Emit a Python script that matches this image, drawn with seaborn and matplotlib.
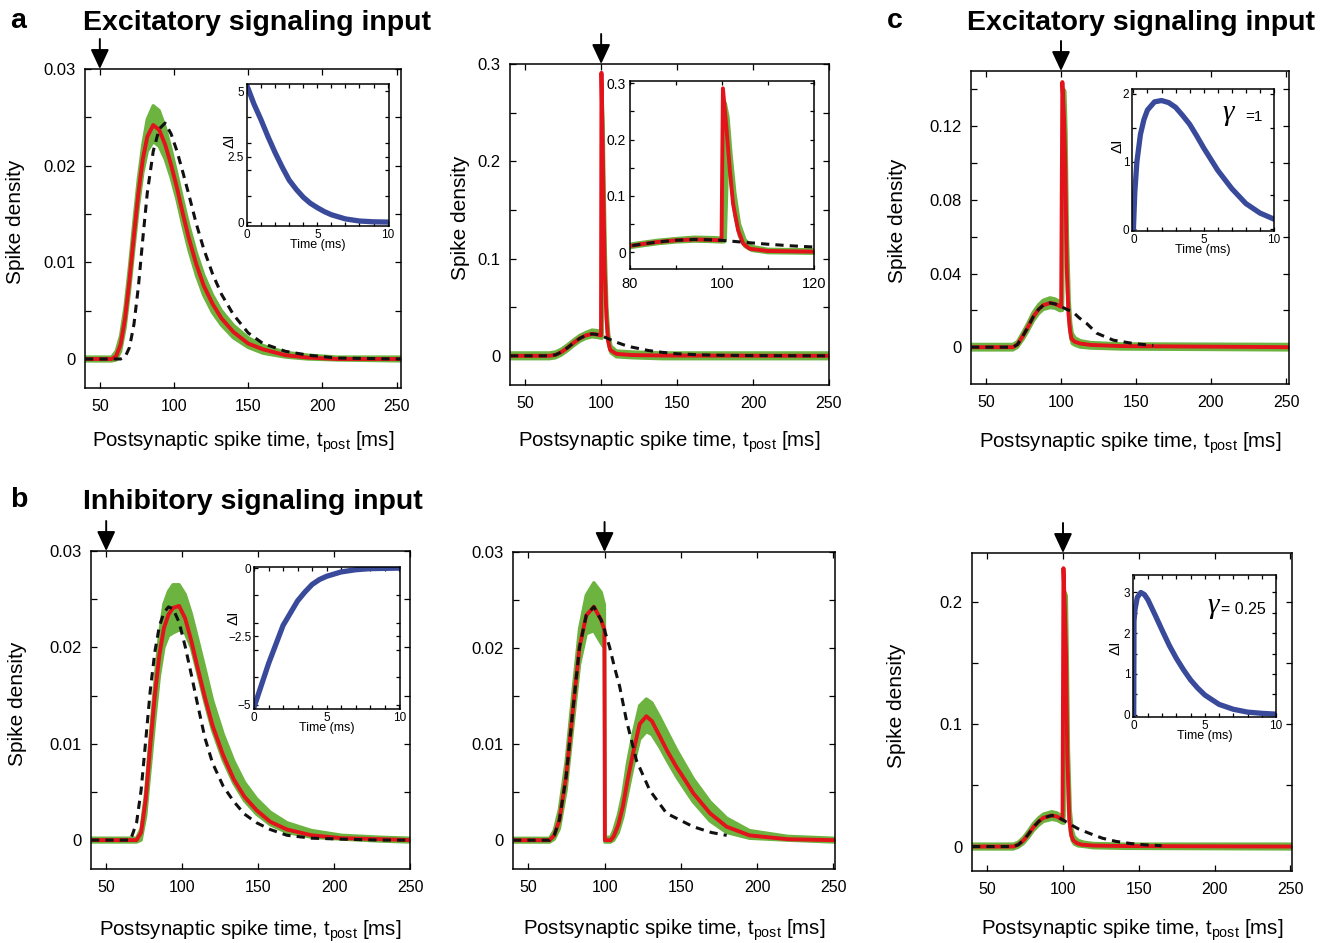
import numpy as np
import matplotlib
matplotlib.use("Agg")
import matplotlib.pyplot as plt
import seaborn as sns

sns.set_style("ticks")
plt.rcParams["font.family"] = ["Liberation Sans", "DejaVu Sans"]
plt.rcParams["mathtext.fontset"] = "custom"
plt.rcParams["mathtext.rm"] = "Liberation Sans"
plt.rcParams["mathtext.it"] = "Liberation Sans:italic"
for k in ["text.color", "axes.labelcolor", "xtick.color", "ytick.color", "axes.edgecolor"]:
    plt.rcParams[k] = "black"

GREEN = "#6cb33f"
RED = "#e3131b"
BLUE = "#3a4a9b"

# ---------------- data ----------------
# a, left: excitatory input at t=50
t_a1 = [40, 58, 61, 64, 67, 70, 73, 76, 79, 82, 86, 90, 94, 98, 102, 106, 110, 115, 120, 126, 132, 140, 150, 160, 175, 190, 210, 253]
red_a1 = [0, 0, 0.0003, 0.0015, 0.0042, 0.0082, 0.0128, 0.0172, 0.0207, 0.0230, 0.0242, 0.0237, 0.0222, 0.0201, 0.0177, 0.0150, 0.0125, 0.0098, 0.0076, 0.0057, 0.0042, 0.0028, 0.0016, 0.0010, 0.0004, 0.00015, 0, 0]
black_a1 = [0, 0, 0, 0, 0.0002, 0.0012, 0.0036, 0.0075, 0.0125, 0.0172, 0.0215, 0.0238, 0.0244, 0.0233, 0.0215, 0.0193, 0.0170, 0.0140, 0.0114, 0.0088, 0.0067, 0.0046, 0.0027, 0.0016, 0.0008, 0.0004, 0.0001, 0]
glo_a1 = [-0.0002, -0.0002, -0.0001, 0.0008, 0.0032, 0.0070, 0.0115, 0.0158, 0.0193, 0.0215, 0.0225, 0.0220, 0.0207, 0.0188, 0.0165, 0.0138, 0.0113, 0.0087, 0.0066, 0.0048, 0.0035, 0.0022, 0.0012, 0.0006, 0.0002, 0, -0.0001, -0.0002]
ghi_a1 = [0.0002, 0.0002, 0.0008, 0.0024, 0.0054, 0.0096, 0.0143, 0.0187, 0.0222, 0.0248, 0.0262, 0.0257, 0.0240, 0.0217, 0.0191, 0.0164, 0.0138, 0.0110, 0.0087, 0.0066, 0.0050, 0.0035, 0.0022, 0.0014, 0.0007, 0.0004, 0.0002, 0.0002]

# a, right: excitatory input at t=100
t_a2 = [40, 66, 70, 74, 78, 82, 86, 90, 94, 97, 99.9, 100.2, 101, 101.7, 102.4, 103.5, 104.6, 106, 110, 120, 140, 250]
red_a2 = [0, 0, 0.001, 0.004, 0.0085, 0.0135, 0.018, 0.021, 0.0225, 0.022, 0.021, 0.291, 0.217, 0.146, 0.086, 0.039, 0.015, 0.006, 0.002, 0.0008, 0.0003, 0]
tb_a2 = [40, 66, 70, 74, 78, 82, 86, 90, 94, 97, 99.9, 104, 110, 115, 120, 131, 140, 150, 165, 180, 200, 250]
black_a2 = [0, 0, 0.001, 0.004, 0.0085, 0.0135, 0.018, 0.021, 0.0225, 0.022, 0.021, 0.0180, 0.0140, 0.0112, 0.0090, 0.0055, 0.0036, 0.0021, 0.0010, 0.0005, 0.0002, 0]
tg_a2 = [40, 66, 70, 74, 78, 82, 86, 90, 94, 97, 100.4, 100.7, 101.3, 102, 102.8, 103.8, 105, 106.5, 110, 120, 140, 250]
glo_a2 = [-0.003, -0.003, -0.002, 0.001, 0.0055, 0.0105, 0.015, 0.018, 0.0195, 0.019, 0.018, 0.02, 0.19, 0.12, 0.065, 0.028, 0.01, 0.003, -0.001, -0.002, -0.003, -0.003]
ghi_a2 = [0.003, 0.003, 0.004, 0.007, 0.0115, 0.0165, 0.021, 0.024, 0.0265, 0.026, 0.025, 0.265, 0.24, 0.17, 0.105, 0.05, 0.022, 0.01, 0.005, 0.004, 0.003, 0.003]

# b, left: inhibitory input at t=50
t_b1 = [40, 66, 70, 73, 76, 79, 82, 85, 88, 91, 94, 98, 102, 106, 110, 115, 120, 127, 134, 141, 149, 158, 169, 185, 205, 230, 250]
red_b1 = [0, 0, 0, 0.0008, 0.0042, 0.0098, 0.0150, 0.0192, 0.0220, 0.0234, 0.0241, 0.0243, 0.0230, 0.0207, 0.0180, 0.0148, 0.0119, 0.0088, 0.0063, 0.0045, 0.0031, 0.0019, 0.0011, 0.0005, 0.0002, 0.0001, 0]
black_b1 = [0, 0, 0.0018, 0.0052, 0.0103, 0.0155, 0.0195, 0.0222, 0.0236, 0.0242, 0.0240, 0.0226, 0.0201, 0.0172, 0.0142, 0.0106, 0.0080, 0.0056, 0.0040, 0.0027, 0.0018, 0.0011, 0.0005, 0.0002, 0.0001, 0, 0]
glo_b1 = [-0.0002, -0.0002, -0.0002, 0, 0.0025, 0.0075, 0.0125, 0.0170, 0.0200, 0.0212, 0.0215, 0.0218, 0.0215, 0.0200, 0.0175, 0.0143, 0.0114, 0.0083, 0.0059, 0.0041, 0.0027, 0.0016, 0.0008, 0.0003, 0.0001, -0.0001, -0.0002]
ghi_b1 = [0.0002, 0.0002, 0.0002, 0.0012, 0.0050, 0.0108, 0.0163, 0.0212, 0.0245, 0.0258, 0.0265, 0.0265, 0.0255, 0.0235, 0.0210, 0.0178, 0.0145, 0.0110, 0.0082, 0.0060, 0.0043, 0.0029, 0.0018, 0.0010, 0.0005, 0.0003, 0.0002]

# b, right: inhibitory input at t=100
t_b2 = [40, 64, 67, 70.4, 74.8, 79.2, 83.6, 88, 93, 97.8, 99.9, 100.2, 104, 106, 109, 112, 115, 118.6, 123, 127.4, 131, 136.2, 141, 147.2, 153, 158.1, 169.1, 180, 195, 220, 251]
red_b2 = [0, 0, 0.0005, 0.0021, 0.0066, 0.0135, 0.0201, 0.0234, 0.0243, 0.0229, 0.0219, 0, 0, 0.0004, 0.0016, 0.0035, 0.0062, 0.0090, 0.0121, 0.0129, 0.0124, 0.0108, 0.0093, 0.0076, 0.0062, 0.0049, 0.0028, 0.0014, 0.0005, 0.0001, 0]
tb_b2 = [40, 64, 67, 70.4, 74.8, 79.2, 83.6, 88, 93, 97.8, 99.9, 103.3, 106.5, 109.9, 114.3, 120.9, 129.6, 140.6, 158.1, 170, 180]
black_b2 = [0, 0, 0.0005, 0.0021, 0.0066, 0.0135, 0.0201, 0.0234, 0.0243, 0.0229, 0.0219, 0.0201, 0.0180, 0.0160, 0.0125, 0.0083, 0.0052, 0.0028, 0.0014, 0.0008, 0.0005]
glo_b2 = [-0.0002, -0.0002, 0.0001, 0.0012, 0.0052, 0.0118, 0.0183, 0.0215, 0.0218, 0.0205, 0.0200, -0.0002, -0.0002, 0, 0.0008, 0.0024, 0.0048, 0.0076, 0.0105, 0.0113, 0.0110, 0.0097, 0.0083, 0.0066, 0.0052, 0.0040, 0.0020, 0.0008, 0.0002, 0, -0.0002]
ghi_b2 = [0.0002, 0.0002, 0.0010, 0.0032, 0.0082, 0.0153, 0.0220, 0.0255, 0.0268, 0.0258, 0.0245, 0.0003, 0.0003, 0.0010, 0.0026, 0.0048, 0.0080, 0.0110, 0.0140, 0.0147, 0.0143, 0.0128, 0.0113, 0.0094, 0.0078, 0.0064, 0.0040, 0.0023, 0.0010, 0.0004, 0.0002]

# c, top: excitatory input, gamma = 1
t_c1 = [40, 68, 71, 74.9, 78, 81.5, 85, 88.2, 92.7, 96, 99.3, 100.1, 100.9, 102, 102.9, 103.8, 105, 106, 107, 109, 112.7, 120, 140, 252]
red_c1 = [0, 0, 0.0015, 0.0065, 0.011, 0.0165, 0.0205, 0.0228, 0.024, 0.0235, 0.0223, 0.022, 0.144, 0.125, 0.098, 0.0436, 0.018, 0.0092, 0.0046, 0.003, 0.002, 0.0012, 0.0006, 0]
tb_c1 = [40, 68, 71, 74.9, 78, 81.5, 85, 88.2, 92.7, 96, 99.3, 100.1, 104, 108.2, 112, 117.1, 123.8, 134.9, 148.2, 161.5]
black_c1 = [0, 0, 0.0015, 0.0065, 0.011, 0.0165, 0.0205, 0.0228, 0.024, 0.0235, 0.0223, 0.022, 0.0205, 0.019, 0.016, 0.0129, 0.0076, 0.0038, 0.002, 0.0009]
tg_c1 = [40, 68, 71, 74.9, 78, 81.5, 85, 88.2, 92.7, 96, 99.3, 101.0, 101.8, 102.6, 103.4, 104.3, 105.5, 106.5, 107.5, 109.5, 113, 120, 140, 252]
glo_c1 = [-0.0015, -0.0015, 0, 0.0045, 0.0088, 0.0142, 0.0182, 0.0205, 0.0215, 0.0212, 0.0198, 0.02, 0.12, 0.11, 0.075, 0.030, 0.012, 0.005, 0.002, 0.001, 0, -0.0005, -0.001, -0.0015]
ghi_c1 = [0.0015, 0.0015, 0.003, 0.0085, 0.0132, 0.019, 0.023, 0.0255, 0.0268, 0.0262, 0.0248, 0.025, 0.14, 0.139, 0.115, 0.06, 0.025, 0.013, 0.0075, 0.005, 0.0035, 0.0025, 0.0018, 0.0015]

# c, bottom: excitatory input, gamma = 0.25
t_c2 = [40, 67.3, 70.5, 73.9, 77, 80.5, 84, 87.1, 92.6, 96, 99.7, 100.3, 101.2, 102, 102.8, 104.2, 105.5, 106.8, 109, 112.4, 120, 140, 251]
red_c2 = [0, 0, 0.0015, 0.005, 0.0098, 0.0158, 0.0205, 0.0235, 0.0254, 0.0245, 0.0219, 0.2276, 0.195, 0.158, 0.076, 0.021, 0.009, 0.005, 0.0028, 0.0015, 0.0008, 0.0004, 0]
tb_c2 = [40, 67.3, 70.5, 73.9, 77, 80.5, 84, 87.1, 92.6, 96, 99.7, 105, 110, 118, 126, 135, 145, 155, 165]
black_c2 = [0, 0, 0.0015, 0.005, 0.0098, 0.0158, 0.0205, 0.0235, 0.0254, 0.0245, 0.0219, 0.018, 0.0145, 0.0105, 0.0068, 0.0042, 0.0024, 0.0013, 0.0007]
tg_c2 = [40, 67.3, 70.5, 73.9, 77, 80.5, 84, 87.1, 92.6, 96, 99.5, 100.6, 101.3, 102.2, 102.9, 103.6, 104.8, 106, 107.5, 110, 114, 120, 140, 251]
glo_c2 = [-0.002, -0.002, -0.0005, 0.0025, 0.007, 0.013, 0.0175, 0.0205, 0.0222, 0.0215, 0.0192, 0.019, 0.18, 0.14, 0.07, 0.03, 0.012, 0.005, 0.002, 0.0005, 0, -0.001, -0.0015, -0.002]
ghi_c2 = [0.002, 0.002, 0.0035, 0.0075, 0.0125, 0.0188, 0.0235, 0.0265, 0.0285, 0.0275, 0.0248, 0.025, 0.208, 0.205, 0.15, 0.08, 0.03, 0.014, 0.008, 0.005, 0.0035, 0.0025, 0.002, 0.002]

# insets: input current change dI vs time (ms)
ti_a1 = [0, 0.5, 1, 1.5, 2, 2.5, 3, 3.5, 4, 4.5, 5, 5.5, 6, 7, 8, 9, 10]
di_a1 = [5.2, 4.5, 3.9, 3.25, 2.65, 2.1, 1.6, 1.25, 0.95, 0.72, 0.55, 0.4, 0.28, 0.12, 0.04, 0.01, 0]
ti_b1 = [0, 0.5, 1, 1.5, 2, 2.5, 3, 3.5, 4, 4.5, 5, 6, 7, 8, 9, 10]
di_b1 = [-5.1, -4.3, -3.5, -2.8, -2.1, -1.65, -1.2, -0.88, -0.6, -0.42, -0.3, -0.14, -0.06, -0.02, -0.01, 0]
ti_c1 = [0, 0.1, 0.25, 0.5, 0.75, 1, 1.5, 2, 2.5, 3, 3.5, 4, 4.5, 5, 6, 7, 8, 9, 10]
di_c1 = [0, 0.55, 1.0, 1.4, 1.62, 1.76, 1.88, 1.9, 1.87, 1.8, 1.68, 1.55, 1.38, 1.2, 0.87, 0.6, 0.38, 0.24, 0.15]
ti_c2 = [0, 0.02, 0.1, 0.25, 0.5, 0.75, 1, 1.5, 2, 2.5, 3, 3.5, 4, 4.5, 5, 6, 7, 8, 9, 10]
di_c2 = [0, 2.3, 2.6, 2.88, 3.0, 2.95, 2.82, 2.45, 2.07, 1.7, 1.38, 1.1, 0.85, 0.65, 0.48, 0.25, 0.13, 0.06, 0.03, 0.01]

xticks_main = [50, 100, 150, 200, 250]
xlabel_txt = "Postsynaptic spike time, t$_{\\mathrm{post}}$ [ms]"

# ---------------- figure ----------------
W, H = 1337, 943
fig = plt.figure(figsize=(W / 100, H / 100), dpi=100)


def rect(l, r, t, b):
    return [l / W, 1 - b / H, (r - l) / W, (b - t) / H]


def style_axes(ax, fsx, fsy, length):
    for s in ax.spines.values():
        s.set_linewidth(1.1)
        s.set_color("black")
    ax.tick_params(which="both", direction="in", top=True, right=True,
                   length=length, width=0.9, colors="black", pad=5)
    ax.tick_params(axis="x", labelsize=fsx)
    ax.tick_params(axis="y", labelsize=fsy)


def draw_curves(ax, t, red, tb, black, tg, glo, ghi):
    ax.fill_between(tg, glo, ghi, color=GREEN, lw=0, zorder=1)
    for arr in (glo, ghi):
        sns.lineplot(x=tg, y=arr, ax=ax, color=GREEN, lw=2.4, estimator=None, sort=False, zorder=1)
    sns.lineplot(x=t, y=red, ax=ax, color=RED, lw=2.8, estimator=None, sort=False, zorder=2)
    sns.lineplot(x=tb, y=black, ax=ax, color="#111111", lw=2.2, estimator=None, sort=False,
                 linestyle=(0, (2.7, 2.0)), zorder=3)


def draw_main(r, xlim, ylim, yt, yl, ym, t, red, tb, black, tg, glo, ghi, arrow_t, xlab_y, ylab_x=None):
    ax = fig.add_axes(rect(*r))
    draw_curves(ax, t, red, tb, black, tg, glo, ghi)
    ax.set_xlim(*xlim)
    ax.set_ylim(*ylim)
    ax.set_xticks(xticks_main)
    ax.set_xticklabels([str(v) for v in xticks_main])
    ax.set_yticks(yt)
    ax.set_yticklabels(yl)
    ax.set_yticks(ym, minor=True)
    style_axes(ax, 11.5, 12, 4)
    ax.tick_params(axis="x", pad=8)
    ax.tick_params(axis="y", pad=7)
    ax.set_xlabel(xlabel_txt, fontsize=14.7)
    ax.xaxis.set_label_coords(0.5, xlab_y)
    if ylab_x is not None:
        ax.set_ylabel("Spike density", fontsize=15)
        ax.yaxis.set_label_coords(ylab_x, 0.52)
    else:
        ax.set_ylabel("")
    ax.annotate("", xy=(arrow_t, 1.0), xycoords=("data", "axes fraction"),
                xytext=(0, 30), textcoords="offset pixels",
                arrowprops=dict(arrowstyle="-|>,head_length=0.6,head_width=0.28",
                                color="black", lw=1.4, shrinkA=0, shrinkB=0,
                                mutation_scale=20),
                annotation_clip=False)
    return ax


def draw_inset(r, x, y, xlim, ylim, xt, yt, yl, xm, ym, dI_pos):
    ax = fig.add_axes(rect(*r))
    sns.lineplot(x=x, y=y, ax=ax, color=BLUE, lw=3.8, estimator=None, sort=False)
    ax.set_xlim(*xlim)
    ax.set_ylim(*ylim)
    ax.set_xticks(xt)
    ax.set_xticklabels([str(v) for v in xt])
    ax.set_yticks(yt)
    ax.set_yticklabels(yl)
    ax.set_xticks(xm, minor=True)
    ax.set_yticks(ym, minor=True)
    style_axes(ax, 8.5, 8.5, 3)
    ax.tick_params(which="both", pad=2)
    ax.set_xlabel("Time (ms)", fontsize=9, labelpad=-1)
    ax.set_ylabel("")
    ax.text(dI_pos[0], dI_pos[1], "ΔI", transform=ax.transAxes, rotation=90,
            fontsize=11, ha="center", va="center")
    return ax


# a left
draw_main((85, 401, 69, 388), (40, 253), (-0.003, 0.03), [0, 0.01, 0.02, 0.03], ["0", "0.01", "0.02", "0.03"],
          [0.005, 0.015, 0.025], t_a1, red_a1, t_a1, black_a1, t_a1, glo_a1, ghi_a1, 50, -0.13, ylab_x=-0.19)
draw_inset((247, 389, 84, 226), ti_a1, di_a1, (0, 10.1), (-0.15, 5.27), [0, 5, 10], [0, 2.5, 5],
           ["0", "2.5", "5"], [1, 2, 3, 4, 6, 7, 8, 9], [1, 2, 3, 4], (-0.12, 0.6))

# a right
draw_main((510, 829, 64, 385), (40, 250), (-0.03, 0.3), [0, 0.1, 0.2, 0.3], ["0", "0.1", "0.2", "0.3"],
          [0.05, 0.15, 0.25], t_a2, red_a2, tb_a2, black_a2, tg_a2, glo_a2, ghi_a2, 100, -0.14, ylab_x=-0.125)
axi = fig.add_axes(rect(630, 814, 81, 269))
draw_curves(axi, t_a2, red_a2, tb_a2, black_a2, tg_a2, glo_a2, ghi_a2)
axi.set_xlim(80, 120)
axi.set_ylim(-0.03, 0.304)
axi.set_xticks([80, 100, 120])
axi.set_xticklabels(["80", "100", "120"])
axi.set_xticks([90, 110], minor=True)
axi.set_yticks([0, 0.1, 0.2, 0.3])
axi.set_yticklabels(["0", "0.1", "0.2", "0.3"])
axi.set_yticks([0.05, 0.15, 0.25], minor=True)
style_axes(axi, 10.5, 10, 3)
axi.tick_params(which="both", pad=3)
axi.tick_params(axis="x", pad=6)
axi.set_xlabel("")
axi.set_ylabel("")

# b left
draw_main((91, 410, 551, 869), (40, 250), (-0.003, 0.03), [0, 0.01, 0.02, 0.03], ["0", "0.01", "0.02", "0.03"],
          [0.005, 0.015, 0.025], t_b1, red_b1, t_b1, black_b1, t_b1, glo_b1, ghi_b1, 50, -0.155, ylab_x=-0.2)
draw_inset((254, 400, 567, 709), ti_b1, di_b1, (0, 10.05), (-5.16, 0.04), [0, 5, 10], [-5, -2.5, 0],
           ["\u22125", "\u22122.5", "0"], [1, 2, 3, 4, 6, 7, 8, 9], [-4, -3, -2, -1], (-0.14, 0.64))

# b right
draw_main((513, 835, 552, 869), (40, 251), (-0.003, 0.03), [0, 0.01, 0.02, 0.03], ["0", "0.01", "0.02", "0.03"],
          [0.005, 0.015, 0.025], t_b2, red_b2, tb_b2, black_b2, t_b2, glo_b2, ghi_b2, 100, -0.153, ylab_x=None)

# c top
draw_main((971, 1289, 71, 384), (40, 252), (-0.02, 0.15), [0, 0.04, 0.08, 0.12], ["0", "0.04", "0.08", "0.12"],
          [0.02, 0.06, 0.10, 0.14], t_c1, red_c1, tb_c1, black_c1, tg_c1, glo_c1, ghi_c1, 100, -0.147, ylab_x=-0.2)
ai = draw_inset((1132, 1274, 89, 231), ti_c1, di_c1, (-0.1, 10), (-0.025, 2.07), [0, 5, 10], [0, 1, 2],
                ["0", "1", "2"], [1, 2, 3, 4, 6, 7, 8, 9], [0.5, 1.5], (-0.105, 0.6))
ai.text(0.64, 0.83, "γ", transform=ai.transAxes, fontsize=21, family="Liberation Serif",
        style="italic", ha="left", va="center")
ai.text(0.80, 0.80, "=1", transform=ai.transAxes, fontsize=11, ha="left", va="center")

# c bottom
draw_main((972, 1292, 553, 871), (40, 251), (-0.02, 0.24), [0, 0.1, 0.2], ["0", "0.1", "0.2"],
          [0.05, 0.15], t_c2, red_c2, tb_c2, black_c2, tg_c2, glo_c2, ghi_c2, 100, -0.146, ylab_x=-0.205)
ai = draw_inset((1133, 1276, 575, 717), ti_c2, di_c2, (-0.05, 10), (-0.06, 3.43), [0, 5, 10], [0, 1, 2, 3],
                ["0", "1", "2", "3"], [1, 2, 3, 4, 6, 7, 8, 9], [0.5, 1.5, 2.5], (-0.12, 0.49))
ai.text(0.52, 0.78, "γ", transform=ai.transAxes, fontsize=21, family="Liberation Serif",
        style="italic", ha="left", va="center")
ai.text(0.615, 0.76, "= 0.25", transform=ai.transAxes, fontsize=11.5, ha="left", va="center")

# panel letters and titles
for x, y, s in [(10, 21, "a"), (10, 500, "b"), (887, 21, "c")]:
    fig.text(x / W, 1 - y / H, s, fontsize=20.5, fontweight="bold", ha="left", va="center")
for x, y, s in [(83, 23, "Excitatory signaling input"), (83, 502, "Inhibitory signaling input"),
                (967, 23, "Excitatory signaling input")]:
    fig.text(x / W, 1 - y / H, s, fontsize=20.5, fontweight="bold", ha="left", va="center")

fig.savefig("out.png", dpi=100)
